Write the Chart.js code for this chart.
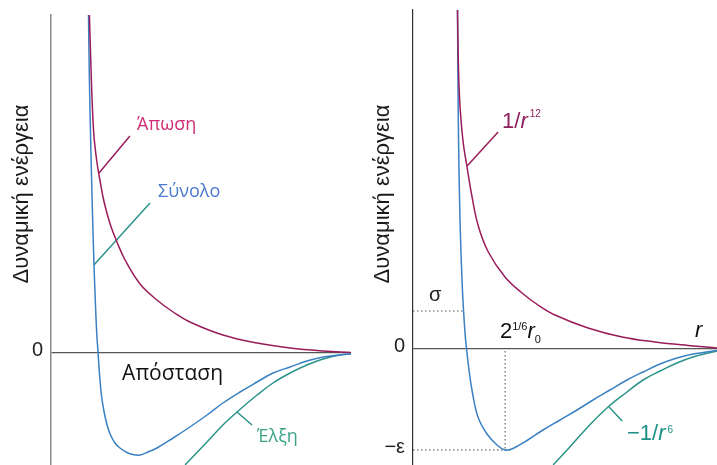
<!DOCTYPE html>
<html>
<head>
<meta charset="utf-8">
<script src="https://cdn.jsdelivr.net/npm/chart.js@4.4.1/dist/chart.umd.min.js"></script>
<style>
html, body { margin: 0; padding: 0; background: #fff; }
#left { position: absolute; left: 0; top: 0; }
#right { position: absolute; left: 358px; top: 0; }
</style>
</head>
<body>
<canvas id="left" width="358" height="465"></canvas>
<canvas id="right" width="359" height="465"></canvas>
<script>
// left panel: distance (0..10) vs potential energy
const apwsh = [[1.28,3.38],[1.32,2.98],[1.37,2.53],[1.43,2.18],[1.53,1.91],[1.63,1.73],[1.77,1.51],[1.97,1.29],[2.20,1.11],[2.47,0.93],[2.97,0.69],[3.53,0.53],[4.07,0.41],[4.63,0.31],[5.73,0.18],[6.87,0.10],[7.97,0.05],[9.07,0.02],[10.0,0.005]];
const synolo = [[1.25,3.38],[1.28,2.73],[1.33,2.03],[1.38,1.43],[1.43,0.91],[1.48,0.50],[1.53,0.17],[1.57,0.00],[1.62,-0.22],[1.68,-0.42],[1.77,-0.59],[1.87,-0.72],[1.97,-0.81],[2.13,-0.90],[2.30,-0.95],[2.53,-0.995],[2.73,-1.015],[2.97,-1.02],[3.23,-0.99],[3.53,-0.95],[4.07,-0.85],[4.63,-0.74],[5.20,-0.62],[5.73,-0.50],[6.30,-0.39],[6.87,-0.29],[7.40,-0.20],[7.97,-0.14],[8.53,-0.08],[9.07,-0.04],[9.63,-0.02],[10.0,-0.01]];
const elxh = [[4.47,-1.12],[4.53,-1.10],[5.20,-0.89],[5.73,-0.72],[6.20,-0.59],[6.87,-0.42],[7.40,-0.30],[7.97,-0.20],[8.53,-0.12],[9.07,-0.06],[9.63,-0.02],[10.0,-0.01]];
const leftTicks = [0];
const leftTickLabels = ['0'];

// right panel: r vs potential (1/r^12, total, -1/r^6)
const r12 = [[1.464,3.39],[1.490,2.89],[1.526,2.54],[1.579,2.29],[1.661,2.04],[1.766,1.84],[1.931,1.54],[2.148,1.23],[2.477,0.97],[3.026,0.72],[3.586,0.56],[4.112,0.44],[4.671,0.34],[5.757,0.21],[6.875,0.12],[7.961,0.07],[9.046,0.035],[10.0,0.01]];
const lj = [[1.464,3.39],[1.490,2.29],[1.546,1.29],[1.622,0.62],[1.711,0.16],[1.766,-0.01],[1.842,-0.21],[1.957,-0.44],[2.138,-0.68],[2.434,-0.85],[2.763,-0.96],[3.026,-1.01],[3.289,-0.995],[3.750,-0.915],[4.276,-0.81],[4.836,-0.71],[5.395,-0.61],[5.921,-0.51],[6.480,-0.41],[7.039,-0.31],[7.566,-0.23],[8.125,-0.15],[8.684,-0.09],[9.211,-0.05],[10.0,-0.015]];
const r6 = [[4.61,-1.16],[4.67,-1.14],[5.16,-0.98],[5.72,-0.79],[6.38,-0.59],[7.04,-0.43],[7.57,-0.31],[8.13,-0.22],[8.68,-0.14],[9.21,-0.08],[10.0,-0.02]];
const rightTicks = [0, -1.01];
const rightTickLabels = ['0', '−ε'];

// guide lines and label leaders
const sigmaGuide = [[0,0.38],[1.64,0.38]];
const epsGuide = [[0,-1.01],[3.26,-1.01]];
const rminGuide = [[3.03,-0.02],[3.03,-1.01]];
const apwshLeader = [[1.60,1.80],[2.63,2.17]];
const synoloLeader = [[1.43,0.88],[3.30,1.50]];
const elxhLeader = [[6.20,-0.59],[6.70,-0.72]];
const r12Leader = [[1.78,1.83],[2.80,2.17]];
const r6Leader = [[6.45,-0.58],[6.88,-0.72]];

const MAGENTA = '#991c5b';
const BLUE = '#3a80c2';
const TEAL = '#2b9488';

const pts = arr => arr.map(p => ({ x: p[0], y: p[1] }));
const curve = (d, c) => ({ data: pts(d), borderColor: c, borderWidth: 1.5, pointRadius: 0, tension: 0.4, capBezierPoints: false, fill: false });
const seg = (d, c, w, dash) => ({ data: pts(d), borderColor: c, borderWidth: w, pointRadius: 0, tension: 0, borderDash: dash || [], fill: false });

const sans = (s, it) => (it ? 'italic ' : '') + s + 'px "Liberation Sans", Arial, sans-serif';
const open = s => s + 'px "Open Sans", "Noto Sans", sans-serif';

function notes(items) {
  return {
    id: 'notes',
    afterDraw(chart) {
      const { ctx, scales: { x, y } } = chart;
      items.forEach(it => {
        ctx.save();
        ctx.translate(x.getPixelForValue(it.x), y.getPixelForValue(it.y));
        if (it.rotate) ctx.rotate(-Math.PI / 2);
        ctx.textBaseline = it.rotate ? 'middle' : 'alphabetic';
        let w = 0;
        it.parts.forEach(p => { ctx.font = p.font; w += ctx.measureText(p.t).width + (p.gap || 0); });
        let cx = it.rotate ? -w / 2 : 0;
        it.parts.forEach(p => {
          ctx.font = p.font;
          ctx.fillStyle = p.color;
          ctx.fillText(p.t, cx, p.dy || 0);
          cx += ctx.measureText(p.t).width + (p.gap || 0);
        });
        ctx.restore();
      });
    }
  };
}

function yScale(min, max, ticks, labels, axisW, axisColor, axisLine) {
  return {
    type: 'linear', min: min, max: max,
    afterBuildTicks: s => { s.ticks = ticks.map(v => ({ value: v })); },
    // fixed axis width, and no extra room for half tick labels
    afterFit: s => { s.width = axisW; s.paddingTop = 0; s.paddingBottom = 0; },
    ticks: { callback: (v, i) => labels[i], font: { family: '"Liberation Sans", Arial, sans-serif', size: 20 }, color: '#222', padding: 8, labelOffset: -3 },
    grid: { display: true, drawTicks: false, lineWidth: 1.2, color: c => (c.tick && c.tick.value === 0 ? '#555' : 'rgba(0,0,0,0)') },
    border: { display: true, color: axisColor, width: axisLine }
  };
}

const common = { responsive: false, animation: false, events: [], plugins: { legend: { display: false }, tooltip: { enabled: false } } };

new Chart(document.getElementById('left'), {
  type: 'line',
  data: { datasets: [
    curve(apwsh, MAGENTA),
    curve(synolo, BLUE),
    curve(elxh, TEAL),
    seg(apwshLeader, MAGENTA, 1.5),
    seg(synoloLeader, TEAL, 1.5),
    seg(elxhLeader, TEAL, 1.5)
  ] },
  options: Object.assign({}, common, {
    layout: { autoPadding: false, padding: { left: 0, right: 7, top: 15, bottom: 0 } },
    scales: {
      x: { type: 'linear', min: 0, max: 10, display: false },
      y: yScale(-1.12, 3.38, leftTicks, leftTickLabels, 51, '#8a8a8a', 1.5)
    }
  }),
  plugins: [notes([
    { x: 2.87, y: 2.23, parts: [{ t: 'Άπωση', font: open(18), color: '#d02b74' }] },
    { x: 3.57, y: 1.56, parts: [{ t: 'Σύνολο', font: open(18), color: '#4a78cf' }] },
    { x: 6.87, y: -0.89, parts: [{ t: 'Έλξη', font: open(18), color: '#3aa387' }] },
    { x: 2.37, y: -0.27, parts: [{ t: 'Απόσταση', font: open(21), color: '#111' }] },
    { x: -0.97, y: 1.59, rotate: true, parts: [{ t: 'Δυναμική ενέργεια', font: sans(22), color: '#1a1a1a' }] }
  ])]
});

new Chart(document.getElementById('right'), {
  type: 'line',
  data: { datasets: [
    curve(r12, MAGENTA),
    curve(lj, BLUE),
    curve(r6, TEAL),
    seg(r12Leader, MAGENTA, 1.5),
    seg(r6Leader, TEAL, 1.5),
    seg(sigmaGuide, '#555', 1, [1.5, 2.5]),
    seg(epsGuide, '#444', 1, [1.5, 2.5]),
    seg(rminGuide, '#444', 1, [1.5, 2.5])
  ] },
  options: Object.assign({}, common, {
    layout: { autoPadding: false, padding: { left: 0, right: 0, top: 10, bottom: 0 } },
    scales: {
      x: { type: 'linear', min: 0, max: 10, display: false },
      y: yScale(-1.16, 3.39, rightTicks, rightTickLabels, 55, '#333', 1.2)
    }
  }),
  plugins: [notes([
    { x: 2.93, y: 2.21, parts: [
      { t: '1/', font: sans(22), color: '#8e1f5c' },
      { t: 'r', font: sans(22, true), color: '#8e1f5c', gap: 2 },
      { t: '12', font: sans(10), color: '#8e1f5c', dy: -11 }] },
    { x: 2.86, y: 0.11, parts: [
      { t: '2', font: sans(22), color: '#111' },
      { t: '1/6', font: sans(11), color: '#111', dy: -8 },
      { t: 'r', font: sans(22, true), color: '#111' },
      { t: '0', font: sans(11), color: '#111', dy: 5 }] },
    { x: 9.28, y: 0.12, parts: [{ t: 'r', font: sans(22, true), color: '#111' }] },
    { x: 0.53, y: 0.48, parts: [{ t: 'σ', font: sans(20), color: '#222' }] },
    { x: 7.04, y: -0.91, parts: [
      { t: '−1/', font: sans(22), color: '#1e8f86' },
      { t: 'r', font: sans(22, true), color: '#1e8f86', gap: 2 },
      { t: '6', font: sans(10), color: '#1e8f86', dy: -7 }] },
    { x: -0.99, y: 1.55, rotate: true, parts: [{ t: 'Δυναμική ενέργεια', font: sans(22), color: '#1a1a1a' }] }
  ])]
});
</script>
</body>
</html>
